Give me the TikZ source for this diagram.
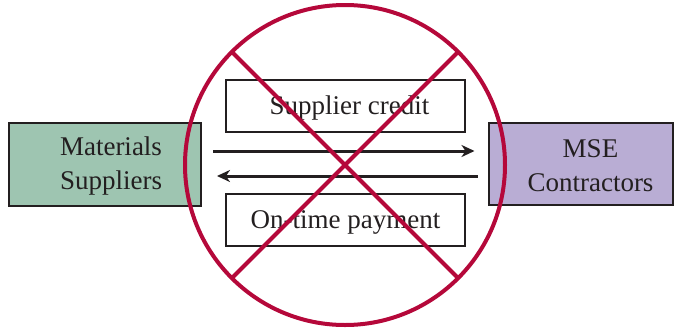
\documentclass[tikz,border=0pt]{standalone}
\usepackage{fontspec}
\setmainfont{Liberation Serif}
\usetikzlibrary{arrows.meta}
\definecolor{crossred}{RGB}{181,8,58}
\definecolor{greenfill}{RGB}{158,197,177}
\definecolor{purplefill}{RGB}{185,173,212}
\definecolor{inkgray}{RGB}{35,31,32}
\tikzset{
  party/.style={draw=inkgray, line width=2pt, minimum height=83pt, inner sep=0pt},
  flowbox/.style={draw=inkgray, line width=2pt, fill=white, minimum width=239pt, minimum height=52pt, inner sep=0pt},
  bigtext/.style={text=inkgray, font=\fontsize{27}{34}\selectfont, align=center, inner sep=0pt},
  flow/.style={draw=inkgray, line width=3pt, -{Stealth[length=13pt,width=12pt,inset=4pt]}},
  redline/.style={draw=crossred, line width=4pt}
}
\begin{document}
\begin{tikzpicture}[x=1pt,y=-1pt]
\useasboundingbox (0,0) rectangle (675,330);
% parties
\node[party, fill=greenfill, minimum width=192pt] (ms) at (105,164.5) {};
\node[bigtext] (mstext) at ([xshift=6pt,yshift=-2pt]ms.center) {Materials\\Suppliers};
\node[party, fill=purplefill, minimum width=184pt, minimum height=82pt] (mse) at (580.5,163.5) {};
\node[bigtext] (msetext) at ([xshift=10pt,yshift=-2pt]mse.center) {MSE\\Contractors};
% flows
\node[flowbox] (credit) at (345.5,106) {};
\node[bigtext] (credittext) at ([xshift=4pt,yshift=-2pt]credit.center) {Supplier credit};
\node[flowbox] (pay) at (345.5,220) {};
\node[bigtext] (paytext) at ([yshift=-2pt]pay.center) {On-time payment};
\draw[flow] ([xshift=11pt,yshift=13.5pt]ms.east) -- ([xshift=-13pt,yshift=12.5pt]mse.west);
\draw[flow] ([xshift=-10pt,yshift=-12.5pt]mse.west) -- ([xshift=15pt,yshift=-11.5pt]ms.east);
% prohibition sign
\node[redline, circle, minimum size=320pt, inner sep=0pt, outer sep=0pt] (ban) at (345,165) {};
\draw[redline] (ban.135) -- (ban.-45);
\draw[redline] (ban.45) -- (ban.-135);
\end{tikzpicture}
\end{document}
